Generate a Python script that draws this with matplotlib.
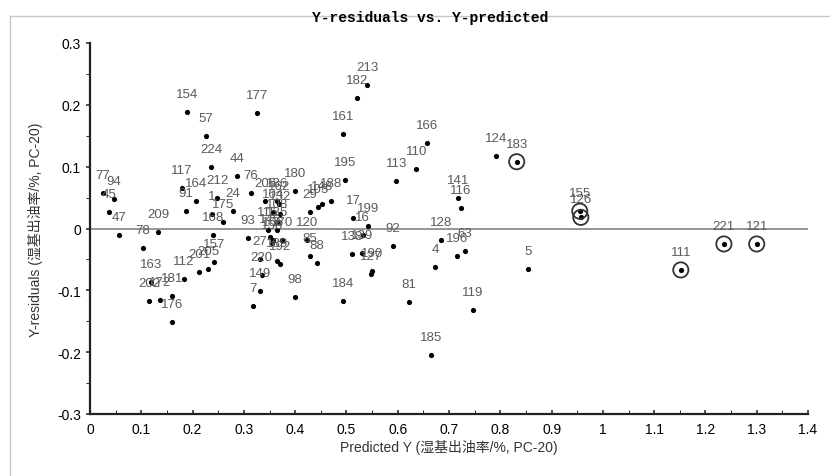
import numpy as np
import matplotlib
matplotlib.use('Agg')
import matplotlib.pyplot as plt
from matplotlib.ticker import MultipleLocator
from matplotlib.lines import Line2D

plt.rcParams['font.family'] = ['Liberation Sans Narrow', 'Liberation Sans', 'Noto Sans CJK SC', 'DejaVu Sans']

labels = ['154', '57', '224', '77', '94', '45', '47', '117', '164', '91',
          '212', '1', '168', '175', '24', '44', '76', '177', '209', '78',
          '163', '172', '181', '202', '176', '112', '201', '205', '157', '93',
          '206', '186', '162', '104', '132', '108', '115', '135', '145', '156',
          '158', '170', '27', '189', '192', '220', '149', '7', '98', '180',
          '103', '148', '188', '29', '120', '85', '88', '195', '161', '182',
          '213', '17', '199', '16', '138', '139', '190', '127', '184', '92',
          '113', '110', '166', '81', '185', '124', '183', '141', '116', '128',
          '196', '63', '4', '5', '119', '155', '126', '111', '221', '121']
pred = [0.189, 0.226, 0.236, 0.025, 0.047, 0.037, 0.056, 0.179, 0.206, 0.187,
        0.248, 0.238, 0.240, 0.259, 0.279, 0.287, 0.314, 0.326, 0.133, 0.103,
        0.119, 0.136, 0.160, 0.115, 0.160, 0.183, 0.213, 0.230, 0.242, 0.308,
        0.341, 0.365, 0.368, 0.357, 0.370, 0.365, 0.347, 0.365, 0.351, 0.357,
        0.355, 0.374, 0.331, 0.365, 0.370, 0.335, 0.331, 0.318, 0.400, 0.399,
        0.445, 0.452, 0.470, 0.429, 0.423, 0.429, 0.443, 0.497, 0.493, 0.521,
        0.540, 0.513, 0.542, 0.532, 0.511, 0.530, 0.550, 0.548, 0.493, 0.591,
        0.597, 0.636, 0.657, 0.622, 0.665, 0.792, 0.832, 0.717, 0.723, 0.684,
        0.716, 0.731, 0.673, 0.854, 0.747, 0.955, 0.957, 1.152, 1.236, 1.300]
resid = [0.188, 0.149, 0.099, 0.057, 0.047, 0.026, -0.011, 0.065, 0.044, 0.029,
         0.050, 0.024, -0.010, 0.011, 0.028, 0.085, 0.057, 0.187, -0.006, -0.032,
         -0.086, -0.115, -0.109, -0.118, -0.152, -0.081, -0.071, -0.066, -0.054, -0.016,
         0.045, 0.044, 0.040, 0.026, 0.023, 0.011, -0.002, -0.003, -0.013, -0.018,
         -0.023, -0.018, -0.049, -0.053, -0.058, -0.075, -0.101, -0.125, -0.111, 0.060,
         0.034, 0.040, 0.044, 0.026, -0.018, -0.044, -0.055, 0.079, 0.153, 0.211,
         0.232, 0.017, 0.004, -0.011, -0.041, -0.040, -0.069, -0.074, -0.118, -0.028,
         0.077, 0.096, 0.139, -0.119, -0.204, 0.117, 0.108, 0.049, 0.033, -0.019,
         -0.044, -0.036, -0.063, -0.066, -0.132, 0.028, 0.018, -0.067, -0.025, -0.025]
circled = ['183', '155', '126', '111', '221', '121']

xticks = np.round(np.arange(0, 1.41, 0.1), 1)
yticks = np.round(np.arange(-0.3, 0.31, 0.1), 1)

fig = plt.figure(figsize=(8.3, 4.77), dpi=100)
ax = fig.add_axes([90/830, 1-415/477, 718/830, 371/477])

ax.axhline(0, color='#8c8c8c', lw=1.3, zorder=1)

ax.scatter(pred, resid, s=14, c='black', zorder=3, linewidths=0)
cx = [p for p, l in zip(pred, labels) if l in circled]
cy = [r for r, l in zip(resid, labels) if l in circled]
ax.scatter(cx, cy, s=120, facecolors='none', edgecolors='#333333', linewidths=1.3, zorder=3)

for l, p, r in zip(labels, pred, resid):
    ax.annotate(l, (p, r), xytext=(0, 18), textcoords='offset pixels',
                ha='center', va='center', fontsize=9.5, color='#5a5a5a',
                family=['Liberation Sans', 'DejaVu Sans'], zorder=4)

ax.set_xlim(0, 1.4)
ax.set_ylim(-0.3, 0.3)
ax.set_xticks(xticks)
ax.set_xticklabels([('%g' % t) for t in xticks])
ax.set_yticks(yticks)
ax.set_yticklabels([('%g' % t) for t in yticks])
ax.xaxis.set_minor_locator(MultipleLocator(0.05))
ax.yaxis.set_minor_locator(MultipleLocator(0.05))
ax.tick_params(axis='both', which='major', labelsize=10, color='#333333', width=1.2)
ax.tick_params(axis='x', which='both', direction='in', length=3)
ax.tick_params(axis='y', which='both', direction='out', length=3)
ax.tick_params(axis='x', pad=6)

for s in ['top', 'right']:
    ax.spines[s].set_visible(False)
for s in ['left', 'bottom']:
    ax.spines[s].set_linewidth(1.6)
    ax.spines[s].set_color('#222222')

ax.set_xlabel('Predicted Y (湿基出油率/%, PC-20)', fontsize=10, color='#333333', labelpad=2)
ax.set_ylabel('Y-residuals (湿基出油率/%, PC-20)', fontsize=10, color='#333333', labelpad=10)

fig.text(430/830, 1-18/477, 'Y-residuals vs. Y-predicted', ha='center', va='center',
         fontsize=10.5, fontweight='bold', family=['Liberation Mono', 'DejaVu Sans Mono'])

# light frame around the chart area
fig.add_artist(Line2D([10/830, 10/830], [0, 1-17/477], color='#c8c8c8', lw=1.0))
fig.add_artist(Line2D([10/830, 1], [1-17/477, 1-17/477], color='#c8c8c8', lw=1.0))

fig.savefig('out.png', dpi=100)
